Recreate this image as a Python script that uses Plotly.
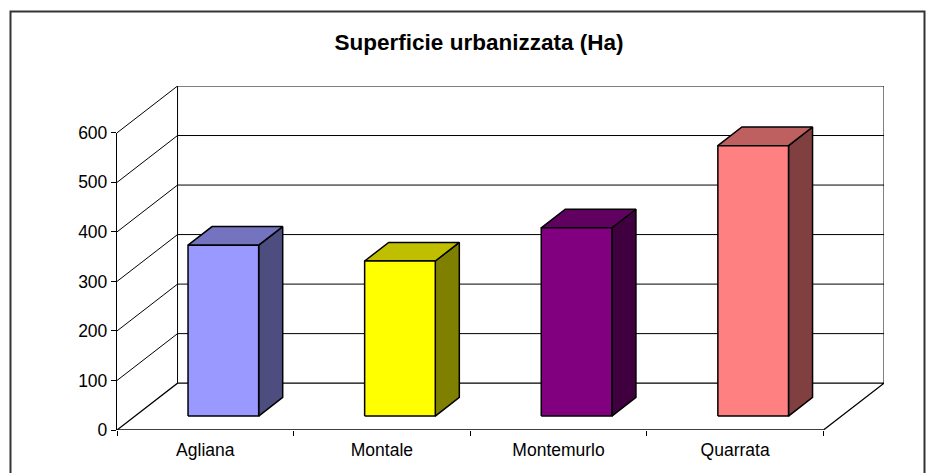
import plotly.graph_objects as go

categories = ["Agliana", "Montale", "Montemurlo", "Quarrata"]
values = [345, 313, 380, 546]
y_ticks = [0, 100, 200, 300, 400, 500, 600]
y_tick_labels = ["0", "100", "200", "300", "400", "500", "600"]
front_colors = ["#9999FF", "#FFFF00", "#800080", "#FF8080"]
top_colors = ["#7373BF", "#BFBF00", "#600060", "#BF6060"]
side_colors = ["#4D4D80", "#808000", "#400040", "#804040"]

# oblique projection: shift of the back wall in axis units
DX = 0.3428
DY = 94.6
BAR_W = 0.4
D_FRONT = 0.298
D_BACK = 0.695
n = len(categories)
ymax = y_ticks[-1]


def proj(x, y, d):
    return x + DX * d, y + DY * d


def poly(points, fill, width=1.5):
    xs = [p[0] for p in points] + [points[0][0]]
    ys = [p[1] for p in points] + [points[0][1]]
    return go.Scatter(x=xs, y=ys, mode="lines", fill="toself", fillcolor=fill,
                      line=dict(color="#000000", width=width), hoverinfo="skip",
                      showlegend=False, cliponaxis=False)


def line(xs, ys, width=1.0, yaxis="y"):
    return go.Scatter(x=xs, y=ys, mode="lines", yaxis=yaxis,
                      line=dict(color="#000000", width=width, simplify=False),
                      hoverinfo="skip", showlegend=False, cliponaxis=False)


fig = go.Figure()

# walls and gridlines
for t in y_ticks:
    if t == 0:
        continue
    bx, by = proj(0, t, 1)
    ex, ey = proj(n, t, 1)
    fig.add_trace(line([0, bx, ex], [t, by, ey]))
bx0, by0 = proj(0, 0, 1)
bx1, by1 = proj(0, ymax, 1)
rx0, ry0 = proj(n, 0, 1)
rx1, ry1 = proj(n, ymax, 1)
fig.add_trace(line([bx0, bx1], [by0, by1]))
fig.add_trace(line([rx0, rx1], [ry0, ry1]))
fig.add_trace(line([0, bx0, rx0, n], [0, by0, ry0, 0], 1.3))
fig.add_trace(line([0, n], [0, 0], 1.3, yaxis="y2"))

# bars
for i, v in enumerate(values):
    c = i + 0.5
    l, r = c - BAR_W / 2, c + BAR_W / 2
    fig.add_trace(poly([proj(r, 0, D_FRONT), proj(r, 0, D_BACK), proj(r, v, D_BACK), proj(r, v, D_FRONT)], side_colors[i]))
    fig.add_trace(poly([proj(l, v, D_FRONT), proj(l, v, D_BACK), proj(r, v, D_BACK), proj(r, v, D_FRONT)], top_colors[i]))
    fig.add_trace(poly([proj(l, 0, D_FRONT), proj(r, 0, D_FRONT), proj(r, v, D_FRONT), proj(l, v, D_FRONT)], front_colors[i]))

W, H = 935, 473
ML, MR, MT, MB = 117, 51, 86, 43
PW, PH = W - ML - MR, H - MT - MB


def px(x):
    return (x - ML) / PW


def py(y):
    return 1 - (y - MT) / PH


fig.update_layout(
    width=W, height=H, margin=dict(l=ML, r=MR, t=MT, b=MB),
    paper_bgcolor="#FFFFFF", plot_bgcolor="rgba(0,0,0,0)", showlegend=False,
    font=dict(family="Liberation Sans, Arial, sans-serif", size=17.5, color="#000000"),
    title=dict(text="<b>Superficie urbanizzata (Ha)</b>", x=479 / W, xanchor="center",
               y=1 - 42 / H, yanchor="middle",
               font=dict(family="Liberation Sans, Arial, sans-serif", size=22.5, color="#000000")),
    xaxis=dict(range=[0, n + DX], showgrid=False, zeroline=False, showline=False,
               tickmode="array", tickvals=[i + 0.5 for i in range(n)], ticktext=categories,
               ticks="", ticklen=0, tickfont=dict(size=17.5), ticklabelstandoff=7,
               minor=dict(tickmode="array", tickvals=list(range(n + 1)), ticks="outside",
                          ticklen=5, tickwidth=1, tickcolor="#000000", showgrid=False)),
    yaxis=dict(range=[0, ymax + DY], showgrid=False, zeroline=False, showline=False,
               showticklabels=False, ticks=""),
    yaxis2=dict(domain=[0, ymax / (ymax + DY)], range=[0, ymax], anchor="x",
                showgrid=False, zeroline=False, showline=True, linecolor="#000000", linewidth=1.3,
                tickmode="array", tickvals=y_ticks, ticktext=y_tick_labels,
                ticks="outside", ticklen=5, tickwidth=1, tickcolor="#000000",
                tickfont=dict(size=17.5)),
    shapes=[dict(type="path", xref="paper", yref="paper", layer="above",
                 path=f"M {px(10.5)} {py(480)} L {px(10.5)} {py(11.5)} L {px(924.5)} {py(11.5)} L {px(924.5)} {py(480)}",
                 line=dict(color="#333333", width=2))],
)

fig.write_html("out.html", post_script="document.body.style.margin='0';document.body.style.overflow='hidden';",
               config={"displayModeBar": False})
